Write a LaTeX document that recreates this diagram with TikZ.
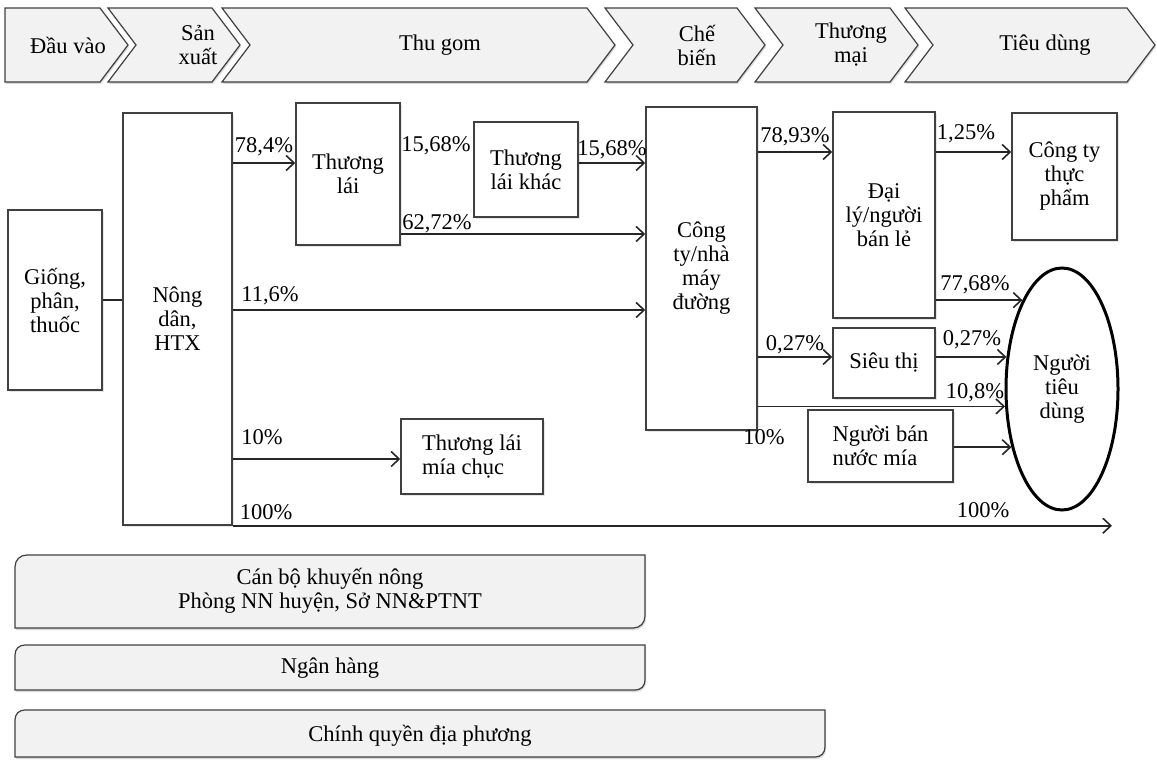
\documentclass[tikz,border=0pt]{standalone}
\usepackage{fontspec}
\setmainfont{Liberation Serif}
\usetikzlibrary{arrows.meta, shapes, shadows, positioning}
\usepackage{xcolor}
\definecolor{panelgray}{RGB}{242,242,242}
\definecolor{edgegray}{RGB}{64,64,64}
\definecolor{linegray}{RGB}{38,38,38}
\tikzset{chainbox/.style={rectangle, draw=edgegray, fill=white, line width=1.5pt, inner sep=2pt, align=center, drop shadow={opacity=0.2, shadow xshift=1.5pt, shadow yshift=-1.5pt}},
chevron/.style={draw=edgegray, fill=panelgray, line width=1.2pt, drop shadow={opacity=0.3, shadow xshift=1pt, shadow yshift=-2pt}},
panel/.style={draw=edgegray, fill=panelgray, line width=1.2pt, drop shadow={opacity=0.3, shadow xshift=1pt, shadow yshift=-2pt}}}
\tikzset{flowline/.style={draw=linegray, line width=1.6pt},
flowarrow/.style={flowline, -{Straight Barb[length=8pt, width=15pt]}},
pct/.style={inner sep=0pt}}

\begin{document}
\begin{tikzpicture}[x=1pt, y=-1pt, font=\fontsize{22.5}{24}\selectfont]
                \useasboundingbox (0,0) rectangle (1157,760);

                % Stages
                \foreach \l/\r/\notch in {5/100/0, 108/212/28, 222/587/28, 605/737/28, 755/890/28, 905/1127/28} {
\draw[chevron] (\l,8) -- (\r,8) -- (\r+28,45) -- (\r,82) -- (\l,82) -- (\l+\notch,45) -- cycle;
}
                \node[align=center] (sdv) at (68,45) {Đầu vào};
                \node[align=center] (ssx) at (198,45) {Sản\\xuất};
                \node[align=center] (stg) at (440,45) {Thu gom};
                \node[align=center] (scb) at (697,45) {Chế\\biến};
                \node[align=center] (stm) at (851,45) {Thương\\mại};
                \node[align=center] (std) at (1045,45) {Tiêu dùng};

                % Actors
                \node[chainbox, minimum width=94, minimum height=180] (gpt) at (55,300) {Giống,\\phân,\\thuốc};
                \node[chainbox, minimum width=109, minimum height=412] (nd) at (177.5,319) {Nông\\dân,\\HTX};
                \node[chainbox, minimum width=104, minimum height=142] (tl) at (348,174) {Thương\\lái};
                \node[chainbox, minimum width=104, minimum height=95] (tlk) at (526,169.5) {Thương\\lái khác};
                \node[chainbox, minimum width=111, minimum height=323] (ct) at (701.5,268.5) {Công\\ty/nhà\\máy\\đường};
                \node[chainbox, minimum width=102, minimum height=206] (dl) at (884,215) {Đại\\lý/người\\bán lẻ};
                \node[chainbox, minimum width=105, minimum height=127] (cttp) at (1064.5,176.5) {Công ty\\thực\\phẩm};
                \node[chainbox, minimum width=102, minimum height=70] (st) at (884,363) {Siêu thị};
                \node[chainbox, align=left, minimum width=145, minimum height=72] (bnm) at (880.5,446) {Người bán\\nước mía};
                \node[chainbox, align=left, minimum width=142, minimum height=75] (tlmc) at (472,456.5) {Thương lái\\mía chục};
                \node[ellipse, draw=black, line width=3pt, fill=white, align=center, minimum width=112, minimum height=242, inner sep=0pt] (ntd) at (1062,389) {Người\\tiêu\\dùng};
                \coordinate (end100) at (1112,523);

                % Flows
                \draw[flowline] (gpt.east) -- (gpt.east -| nd.west);
                \draw[flowarrow] (nd.east |- 0,163) -- (tl.west |- 0,163);
                \draw[flowarrow] (nd.east |- 0,310) -- (ct.west |- 0,310);
                \draw[flowarrow] (nd.east |- 0,459) -- (tlmc.west |- 0,459);
                \draw[flowarrow] (nd.south east) -- (nd.south east -| end100);
                \draw[flowarrow] (tl.east |- 0,234) -- (ct.west |- 0,234);
                \draw[flowarrow] (tlk.east |- 0,163) -- (ct.west |- 0,163);
                \draw[flowarrow] (ct.east |- 0,152) -- (dl.west |- 0,152);
                \draw[flowarrow] (dl.east |- 0,152) -- (cttp.west |- 0,152);
                \draw[flowarrow] (dl.east |- ntd.114) -- (ntd.114);
                \draw[flowarrow] (ct.east |- ntd.150) -- (st.west |- ntd.150);
                \draw[flowarrow] (st.east |- ntd.150) -- (ntd.150);
                \draw[flowarrow] (ct.east |- ntd.197) -- (ntd.197);
                \draw[flowarrow] (bnm.east |- ntd.229) -- (ntd.229);

                % Shares
                \node[pct] (p784) at (264,147) {78,4\%};
                \node[pct] (p1568a) at (436,146) {15,68\%};
                \node[pct] (p1568b) at (612,150) {15,68\%};
                \node[pct] (p6272) at (437,224) {62,72\%};
                \node[pct] (p116) at (270,296) {11,6\%};
                \node[pct] (p10a) at (262,437) {10\%};
                \node[pct] (p100a) at (266,512) {100\%};
                \node[pct] (p100b) at (983,510) {100\%};
                \node[pct] (p7893) at (795,137) {78,93\%};
                \node[pct] (p125) at (966,134) {1,25\%};
                \node[pct] (p7768) at (975,285) {77,68\%};
                \node[pct] (p027a) at (795,345) {0,27\%};
                \node[pct] (p027b) at (972,340) {0,27\%};
                \node[pct] (p108) at (975,393) {10,8\%};
                \node[pct] (p10b) at (764,437) {10\%};

                % Support
                \draw[panel] (15,628) -- (15,567) .. controls (15,560) and (20,555) .. (27,555) -- (645,555) -- (645,616) .. controls (645,623) and (640,628) .. (633,628) -- cycle;
                \node[align=center] (pkn) at (330,591) {Cán bộ khuyến nông\\Phòng NN huyện, Sở NN\&PTNT};
                \draw[panel] (15,690) -- (15,655) .. controls (15,649) and (19,645) .. (25,645) -- (645,645) -- (645,680) .. controls (645,686) and (641,690) .. (635,690) -- cycle;
                \node (pnh) at (330,668) {Ngân hàng};
                \draw[panel] (15,757) -- (15,720) .. controls (15,714) and (19,710) .. (25,710) -- (825,710) -- (825,747) .. controls (825,753) and (821,757) .. (815,757) -- cycle;
                \node (pcq) at (420,736) {Chính quyền địa phương};
            \end{tikzpicture}
\end{document}
